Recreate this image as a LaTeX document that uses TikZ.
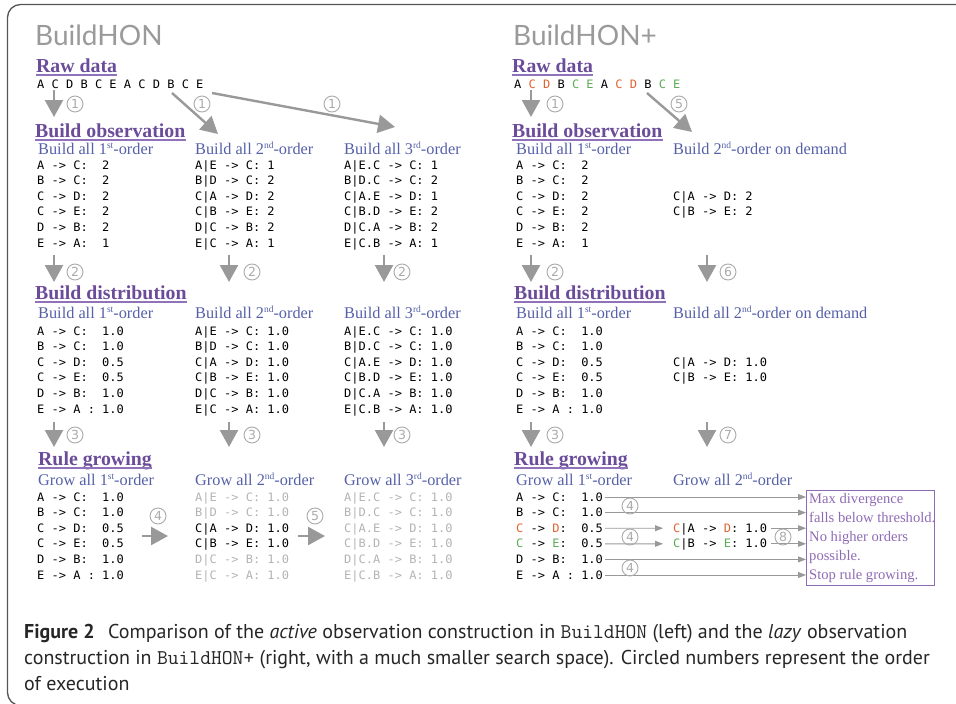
\documentclass[tikz,border=0pt]{standalone}
\usepackage{fontspec}
\usetikzlibrary{arrows.meta,calc}
\setmainfont{Liberation Serif}
\newfontfamily\codefont[FakeStretch=1.035]{DejaVu Sans Mono}
\newfontfamily\titlefont{Lato}
\newfontfamily\capfont{PT Sans}
\newfontfamily\numfont{DejaVu Sans}
\definecolor{hdpurple}{HTML}{6B4C9A}
\definecolor{ulpurple}{HTML}{8F72BA}
\definecolor{subblue}{HTML}{5560A8}
\definecolor{boxpurple}{HTML}{8E6BB5}
\definecolor{titlegray}{HTML}{9A9A9A}
\definecolor{arrowgray}{HTML}{999999}
\definecolor{numgray}{HTML}{AAAAAA}
\definecolor{dimgray}{HTML}{B3B3B3}
\definecolor{orC}{HTML}{E2612F}
\definecolor{grC}{HTML}{5BAA55}
\definecolor{framecol}{HTML}{555555}
\newcommand\sups[1]{\raisebox{5.2pt}{\fontsize{9.5}{10}\selectfont #1}}
\newcommand\capmono[1]{{\ttfamily\fontsize{21}{21}\selectfont #1}}
\tikzset{
 ttl/.style={anchor=base west, inner sep=0pt, text=titlegray, font=\titlefont\fontsize{28}{28}\selectfont},
 sect/.style={anchor=base west, inner sep=0pt, text=hdpurple, font=\bfseries\fontsize{19.8}{20}\selectfont},
 sub/.style={anchor=base west, inner sep=0pt, text=subblue, font=\fontsize{16.3}{17}\selectfont},
 code/.style={anchor=base west, inner sep=0pt, font=\codefont\fontsize{11.6}{12}\selectfont},
 dim/.style={code, text=dimgray},
 bigarrow/.style={draw=arrowgray, line width=2.4pt, -{Triangle[width=18pt,length=17pt]}},
 thinarrow/.style={draw=arrowgray, line width=0.9pt, -{Triangle[width=6pt,length=8pt]}},
 num/.style={circle, draw=numgray, text=numgray, line width=0.9pt, minimum size=16pt, inner sep=0pt, font=\numfont\fontsize{12.5}{13}\selectfont},
 uline/.style={draw=ulpurple, line width=1.3pt},
 boxtxt/.style={anchor=base west, inner sep=0pt, text=boxpurple, font=\fontsize{14.6}{15}\selectfont},
 captxt/.style={anchor=base west, inner sep=0pt, text=black!85, font=\capfont\fontsize{20}{20}\selectfont},
}
\newcommand\bigarr[5]{%
  \coordinate (#1s) at (#2); \coordinate (#1e) at (#3);
  \draw[bigarrow] (#1s) -- (#1e);
  \node[num] (#1n) at (#4) {#5};}
\newcommand\secthd[3]{%
  \node[sect] (#1) at (#2) {#3};
  \draw[uline] ($(#1.base west)+(0,3)$) -- ($(#1.base east)+(0,3)$);}
\begin{document}
\begin{tikzpicture}[x=1pt,y=-1pt]
\useasboundingbox (0,0) rectangle (956,704);
% frame
\draw[framecol, line width=1.3pt, rounded corners=13pt] (990,705.5) -- (7.5,705.5) -- (7.5,4.5) -- (990,4.5);

% ================= LEFT: BuildHON =================
\node[ttl] (tL) at (35,45) {BuildHON};
\secthd{rawL}{36,72}{Raw data}
\node[code] (dataL) at (37,88) {A C D B C E A C D B C E};
\bigarr{a1}{54,90}{54,117}{75,104}{1}
\bigarr{a2}{172,93}{218,134}{202,104}{1}
\bigarr{a3}{212,93}{395,127}{332,104}{1}

\secthd{obsL}{35,137}{Build observation}
\node[sub] (so1) at (38,154) {Build all 1\sups{st}-order};
\node[sub] (so2) at (195,154) {Build all 2\sups{nd}-order};
\node[sub] (so3) at (344,154) {Build all 3\sups{rd}-order};
\foreach \i/\t in {1/{A -> C:~~2},2/{B -> C:~~2},3/{C -> D:~~2},4/{C -> E:~~2},5/{D -> B:~~2},6/{E -> A:~~1}}
  \node[code] (Lo1r\i) at (37,{169+15.6*(\i-1)}) {\t};
\foreach \i/\t in {1/{A|E -> C: 1},2/{B|D -> C: 2},3/{C|A -> D: 2},4/{C|B -> E: 2},5/{D|C -> B: 2},6/{E|C -> A: 1}}
  \node[code] (Lo2r\i) at (195,{169+15.6*(\i-1)}) {\t};
\foreach \i/\t in {1/{A|E.C -> C: 1},2/{B|D.C -> C: 2},3/{C|A.E -> D: 1},4/{C|B.D -> E: 2},5/{D|C.A -> B: 2},6/{E|C.B -> A: 1}}
  \node[code] (Lo3r\i) at (344,{169+15.6*(\i-1)}) {\t};

\bigarr{b1}{54,255}{54,282}{75,272}{2}
\bigarr{b2}{229,255}{229,282}{252,272}{2}
\bigarr{b3}{384,255}{384,282}{402,272}{2}

\secthd{disL}{35,299}{Build distribution}
\node[sub] (sd1) at (38,318) {Build all 1\sups{st}-order};
\node[sub] (sd2) at (195,318) {Build all 2\sups{nd}-order};
\node[sub] (sd3) at (344,318) {Build all 3\sups{rd}-order};
\foreach \i/\t in {1/{A -> C:~~1.0},2/{B -> C:~~1.0},3/{C -> D:~~0.5},4/{C -> E:~~0.5},5/{D -> B:~~1.0},6/{E -> A : 1.0}}
  \node[code] (Ld1r\i) at (37,{335+15.6*(\i-1)}) {\t};
\foreach \i/\t in {1/{A|E -> C: 1.0},2/{B|D -> C: 1.0},3/{C|A -> D: 1.0},4/{C|B -> E: 1.0},5/{D|C -> B: 1.0},6/{E|C -> A: 1.0}}
  \node[code] (Ld2r\i) at (195,{335+15.6*(\i-1)}) {\t};
\foreach \i/\t in {1/{A|E.C -> C: 1.0},2/{B|D.C -> C: 1.0},3/{C|A.E -> D: 1.0},4/{C|B.D -> E: 1.0},5/{D|C.A -> B: 1.0},6/{E|C.B -> A: 1.0}}
  \node[code] (Ld3r\i) at (344,{335+15.6*(\i-1)}) {\t};

\bigarr{c1}{54,422}{54,447}{75,435}{3}
\bigarr{c2}{229,422}{229,447}{252,435}{3}
\bigarr{c3}{384,422}{384,447}{402,435}{3}

\secthd{grL}{38,465}{Rule growing}
\node[sub] (sg1) at (38,485) {Grow all 1\sups{st}-order};
\node[sub] (sg2) at (195,485) {Grow all 2\sups{nd}-order};
\node[sub] (sg3) at (344,485) {Grow all 3\sups{rd}-order};
\foreach \i/\t in {1/{A -> C:~~1.0},2/{B -> C:~~1.0},3/{C -> D:~~0.5},4/{C -> E:~~0.5},5/{D -> B:~~1.0},6/{E -> A : 1.0}}
  \node[code] (Lg1r\i) at (37,{501+15.6*(\i-1)}) {\t};
\foreach \i/\t/\s in {1/{A|E -> C: 1.0}/dim,2/{B|D -> C: 1.0}/dim,3/{C|A -> D: 1.0}/code,4/{C|B -> E: 1.0}/code,5/{D|C -> B: 1.0}/dim,6/{E|C -> A: 1.0}/dim}
  \node[\s] (Lg2r\i) at (195,{501+15.6*(\i-1)}) {\t};
\foreach \i/\t in {1/{A|E.C -> C: 1.0},2/{B|D.C -> C: 1.0},3/{C|A.E -> D: 1.0},4/{C|B.D -> E: 1.0},5/{D|C.A -> B: 1.0},6/{E|C.B -> A: 1.0}}
  \node[dim] (Lg3r\i) at (344,{501+15.6*(\i-1)}) {\t};
\bigarr{d1}{142,536}{168,536}{158,516}{4}
\bigarr{d2}{298,536}{325,536}{315,516}{5}

% ================= RIGHT: BuildHON+ =================
\node[ttl] (tR) at (513,45) {BuildHON+};
\secthd{rawR}{512,72}{Raw data}
\node[code] (dataR) at (514,88) {A \textcolor{orC}{C} \textcolor{orC}{D} B \textcolor{grC}{C} \textcolor{grC}{E} A \textcolor{orC}{C} \textcolor{orC}{D} B \textcolor{grC}{C} \textcolor{grC}{E}};
\bigarr{e1}{531,90}{531,117}{555,104}{1}
\bigarr{e2}{647,93}{692,132}{679,104}{5}

\secthd{obsR}{512,137}{Build observation}
\node[sub] (rso1) at (516,154) {Build all 1\sups{st}-order};
\node[sub] (rso2) at (673,154) {Build 2\sups{nd}-order on demand};
\foreach \i/\t in {1/{A -> C:~~2},2/{B -> C:~~2},3/{C -> D:~~2},4/{C -> E:~~2},5/{D -> B:~~2},6/{E -> A:~~1}}
  \node[code] (Ro1r\i) at (516,{169+15.6*(\i-1)}) {\t};
\node[code] (Ro2r3) at (673,200.2) {C|A -> D: 2};
\node[code] (Ro2r4) at (673,215.8) {C|B -> E: 2};

\bigarr{f1}{531,255}{531,282}{555,272}{2}
\bigarr{f2}{707,255}{707,282}{728,272}{6}

\secthd{disR}{514,299}{Build distribution}
\node[sub] (rsd1) at (516,318) {Build all 1\sups{st}-order};
\node[sub] (rsd2) at (673,318) {Build all 2\sups{nd}-order on demand};
\foreach \i/\t in {1/{A -> C:~~1.0},2/{B -> C:~~1.0},3/{C -> D:~~0.5},4/{C -> E:~~0.5},5/{D -> B:~~1.0},6/{E -> A : 1.0}}
  \node[code] (Rd1r\i) at (516,{335+15.6*(\i-1)}) {\t};
\node[code] (Rd2r3) at (673,366.2) {C|A -> D: 1.0};
\node[code] (Rd2r4) at (673,381.8) {C|B -> E: 1.0};

\bigarr{g1}{531,422}{531,447}{555,435}{3}
\bigarr{g2}{707,422}{707,447}{728,435}{7}

\secthd{grR}{514,465}{Rule growing}
\node[sub] (rsg1) at (516,485) {Grow all 1\sups{st}-order};
\node[sub] (rsg2) at (673,485) {Grow all 2\sups{nd}-order};
\foreach \i/\t in {1/{A -> C:~~1.0},2/{B -> C:~~1.0},3/{\textcolor{orC}{C} -> \textcolor{orC}{D}:~~0.5},4/{\textcolor{grC}{C} -> \textcolor{grC}{E}:~~0.5},5/{D -> B:~~1.0},6/{E -> A : 1.0}}
  \node[code] (Rg1r\i) at (516,{501+15.6*(\i-1)}) {\t};
\node[code] (Rg2r3) at (673,532.2) {\textcolor{orC}{C}|A -> \textcolor{orC}{D}: 1.0};
\node[code] (Rg2r4) at (673,547.8) {\textcolor{grC}{C}|B -> \textcolor{grC}{E}: 1.0};

\node[draw=boxpurple, line width=1pt, anchor=north west, inner sep=0pt, minimum width=128pt, minimum height=95pt] (box) at (806,490) {};
\node[boxtxt] (bt1) at (809,503) {Max divergence};
\node[boxtxt] (bt2) at (809,522) {falls below threshold.};
\node[boxtxt] (bt3) at (809,541) {No higher orders};
\node[boxtxt] (bt4) at (809,560) {possible.};
\node[boxtxt] (bt5) at (809,579) {Stop rule growing.};

\foreach \i in {1,...,6} \coordinate (rs\i) at ($(Rg1r\i.base west)+(89,-4)$);
\foreach \i in {1,2,5,6} \draw[thinarrow] (rs\i) -- (rs\i -| box.west);
\foreach \i in {3,4} {
  \coordinate (rm\i) at ($(Rg2r\i.base west)+(-10,-4)$);
  \coordinate (rt\i) at ($(Rg2r\i.base east)+(4,-4)$);
  \draw[thinarrow] (rs\i) -- (rm\i);
  \draw[thinarrow] (rt\i) -- (rt\i -| box.west);
}
\node[num] (h1) at (630,506) {4};
\node[num] (h2) at (630,537) {4};
\node[num] (h3) at (630,568) {4};
\node[num] (h4) at (783,537) {8};

% ================= caption =================
\node[captxt] (cap1) at (24,638) {{\bfseries Figure 2}\hspace{0.4em} Comparison of the \textit{active} observation construction in \capmono{BuildHON} (left) and the \textit{lazy} observation};
\node[captxt] (cap2) at (24,664) {construction in \capmono{BuildHON+} (right, with a much smaller search space). Circled numbers represent the order};
\node[captxt] (cap3) at (24,690) {of execution};
\end{tikzpicture}
\end{document}
